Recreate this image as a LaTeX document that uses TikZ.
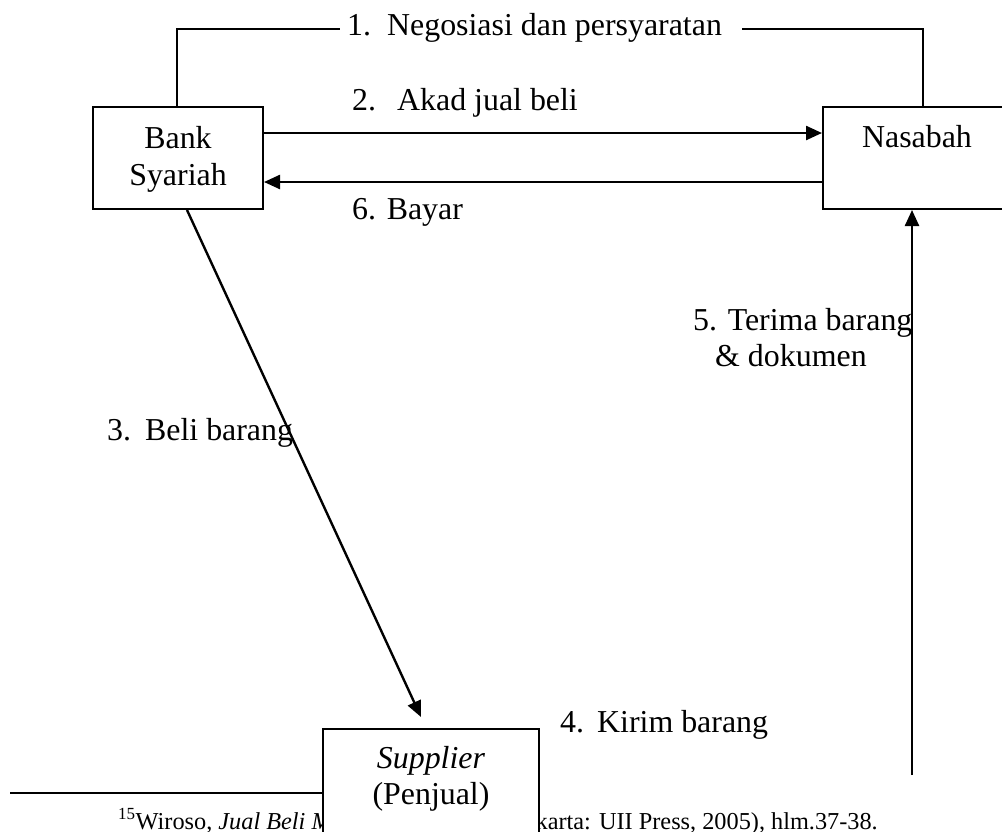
\documentclass[tikz,border=0pt]{standalone}
\usepackage{fontspec}
\setmainfont{Liberation Serif}
\usetikzlibrary{arrows.meta}
\begin{document}
\begin{tikzpicture}[x=1pt,y=-1pt,
  box/.style={draw,line width=2pt,fill=white,inner sep=0pt},
  txt/.style={inner sep=0pt,font=\fontsize{31.9}{37}\selectfont},
  lbl/.style={txt,anchor=base west},
  conn/.style={line width=2.4pt},
  thin/.style={line width=2pt},
  arr/.style={conn,-{Triangle[length=16pt,width=14pt]}},
  foot/.style={inner sep=0pt,font=\fontsize{24.3}{28}\selectfont}]
\useasboundingbox (0,0) rectangle (1002,831);
\clip (0,0) rectangle (1002,831);
% footnote (partly hidden behind the supplier box)
\coordinate (fl) at (10,793);
\node[foot,anchor=base west] (fn1) at (118,829) {\textsuperscript{15}Wiroso, \textit{Jual Beli Murabahah},};
\node[foot,anchor=base east] (fn2) at (878,829) {(Yogyakarta: UII Press, 2005), hlm.37-38.};
% boxes
\node[box,minimum width=170pt,minimum height=102pt] (bank) at (178,158) {};
\node[txt,anchor=base] (bank1) at (178,148) {Bank};
\node[txt,anchor=base] (bank2) at (178,185) {Syariah};
\node[box,minimum width=188pt,minimum height=102pt] (nas) at (917,158) {};
\node[txt,anchor=base] (nastxt) at (917,147) {Nasabah};
\node[box,minimum width=216pt,minimum height=131pt] (sup) at (431,794.5) {};
\node[txt,anchor=base] (sup1) at (431,768) {\textit{Supplier}};
\node[txt,anchor=base] (sup2) at (431,804) {(Penjual)};
\draw[thin] (fl) -- (sup.west |- fl);
% 1
\coordinate (n1) at (340,29);
\coordinate (n2) at (742,29);
\node[lbl] (neg) at (347,35) {1.\hspace{16pt}Negosiasi dan persyaratan};
\draw[thin] ([xshift=-1pt]bank.north) |- (n1);
\draw[thin] (n2) -| ([xshift=6pt]nas.north);
% 2 and 6
\draw[arr] ([yshift=25pt]bank.east) -- ([yshift=25pt]nas.west);
\node[lbl] (akad) at (352,110) {2.\hspace{21pt}Akad jual beli};
\draw[arr] ([yshift=-24pt]nas.west) -- ([yshift=-24pt]bank.east);
\node[lbl] (bayar) at (352,219) {6. Bayar};
% 3
\draw[arr] ([xshift=9pt]bank.south) -- ([xshift=-10pt,yshift=11pt]sup.north);
\node[lbl] (beli) at (107,440) {3.\hspace{14pt}Beli barang};
% 4
\node[lbl] (kirim) at (560,732) {4.\hspace{13pt}Kirim barang};
% 5
\coordinate (c5) at (912,775);
\draw[arr] (c5) -- (c5 |- nas.south);
\node[lbl] (terima) at (693,330) {5. Terima barang};
\node[lbl] (dok) at (715,366) {\& dokumen};
\end{tikzpicture}
\end{document}
